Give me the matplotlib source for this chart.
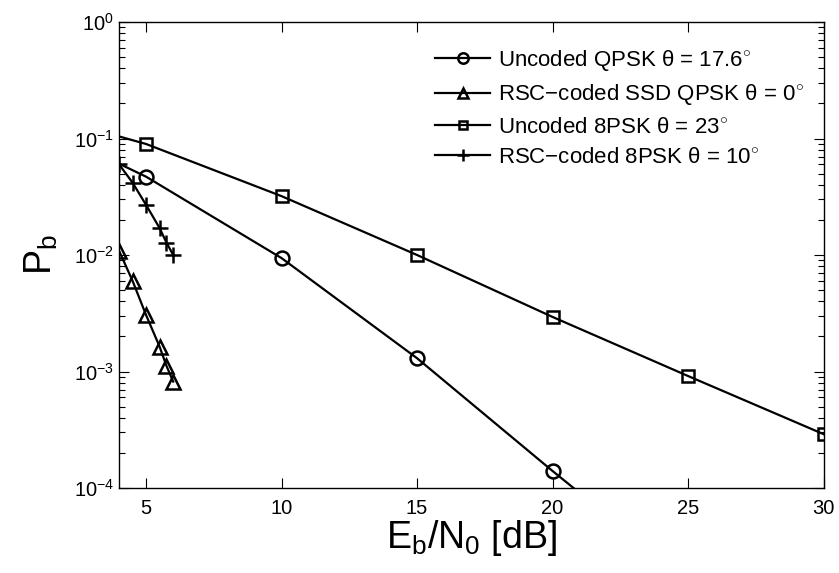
import matplotlib
matplotlib.use("Agg")
import matplotlib.pyplot as plt
from matplotlib.ticker import LogLocator, NullFormatter, FixedLocator

plt.rcParams["font.family"] = ["Liberation Sans", "DejaVu Sans"]
plt.rcParams["mathtext.fontset"] = "custom"
plt.rcParams["mathtext.rm"] = "Liberation Sans"
plt.rcParams["mathtext.it"] = "Liberation Sans"
plt.rcParams["mathtext.bf"] = "Liberation Sans:bold"

# Bit error probability versus Eb/N0
ebn0_qpsk = [0, 5, 10, 15, 20, 25]
pb_qpsk = [0.17, 0.047, 0.0094, 0.0013, 1.40e-4, 1.6e-5]

ebn0_ssd = [4, 4.5, 5, 5.5, 5.75, 6]
pb_ssd = [0.0109, 0.0060, 0.00305, 0.00163, 0.00112, 0.00082]

ebn0_8psk = [0, 5, 10, 15, 20, 25, 30]
pb_8psk = [0.19, 0.0897, 0.032, 0.0100, 0.00294, 0.000915, 0.000290]

ebn0_rsc8 = [4, 4.5, 5, 5.5, 5.75, 6]
pb_rsc8 = [0.0601, 0.0418, 0.0269, 0.0170, 0.0128, 0.0100]

labels = [
    r"Uncoded QPSK $\theta$ = 17.6$^{\circ}$",
    r"RSC$-$coded SSD QPSK $\theta$ = 0$^{\circ}$",
    r"Uncoded 8PSK $\theta$ = 23$^{\circ}$",
    r"RSC$-$coded 8PSK $\theta$ = 10$^{\circ}$",
]

fig = plt.figure(figsize=(8.39, 5.73), dpi=100)
ax = fig.add_axes([119 / 839, 1 - 488 / 573, (823.5 - 119) / 839, (488 - 22) / 573])

lw = 1.6
ax.plot(ebn0_qpsk, pb_qpsk, "k-o", lw=lw, ms=10, mfc="none", mew=1.8, label=labels[0])
ax.plot(ebn0_ssd, pb_ssd, "k-^", lw=lw, ms=10, mfc="none", mew=1.8, label=labels[1])
ax.plot(ebn0_8psk, pb_8psk, "k-s", lw=lw, ms=8, mfc="none", mew=1.8, label=labels[2])
ax.plot(ebn0_rsc8, pb_rsc8, "k-+", lw=lw, ms=11, mew=1.8, label=labels[3])

ax.set_yscale("log")
ax.set_xlim(4, 30)
ax.set_ylim(1e-4, 1)
ax.xaxis.set_major_locator(FixedLocator([5, 10, 15, 20, 25, 30]))
ax.yaxis.set_major_locator(LogLocator(base=10, numticks=10))
ax.yaxis.set_minor_locator(LogLocator(base=10, subs=range(2, 10), numticks=20))
ax.yaxis.set_minor_formatter(NullFormatter())

ax.tick_params(which="both", direction="in", top=True, right=True, labelsize=14.5, width=0.8)
ax.tick_params(which="major", length=7)
ax.tick_params(which="minor", length=4)
ax.tick_params(axis="x", pad=8)
for s in ax.spines.values():
    s.set_linewidth(1.0)

ax.set_xlabel(r"E$_\mathrm{b}$/N$_\mathrm{0}$ [dB]", fontsize=27, labelpad=0)
ax.set_ylabel(r"P$_\mathrm{b}$", fontsize=27, labelpad=10)

leg = ax.legend(loc="upper left", bbox_to_anchor=((435 - 119) / 704.5, (488 - 48) / 466),
                frameon=False, fontsize=16, handlelength=2.48, handletextpad=0.36,
                labelspacing=0.42, borderpad=0, borderaxespad=0, markerscale=0.75)

fig.savefig("out.png", dpi=100)
